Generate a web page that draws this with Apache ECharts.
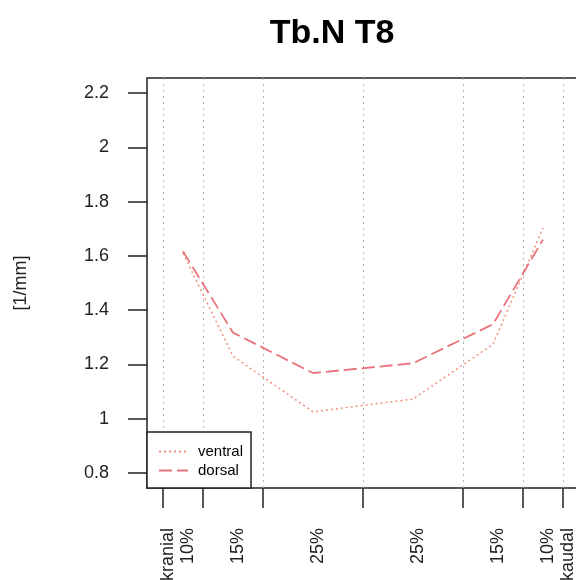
<!DOCTYPE html>
<html>
<head>
<meta charset="utf-8">
<script src="https://cdn.jsdelivr.net/npm/echarts@6/dist/echarts.min.js"></script>
<style>
  html, body { margin: 0; padding: 0; background: #fff; }
  #chart { width: 576px; height: 580px; }
</style>
</head>
<body>
<div id="chart"></div>
<script>
// segment borders along the vertebra (percent) and the centre of each segment
const borders = [0, 10, 25, 50, 75, 90, 100]
const centers = [5, 17.5, 37.5, 62.5, 82.5, 95]
const labelPos = [0, 5, 17.5, 37.5, 62.5, 82.5, 95, 100]
const labelText = ['kranial', '10%', '15%', '25%', '25%', '15%', '10%', 'kaudal']
const yTicks = [0.8, 1, 1.2, 1.4, 1.6, 1.8, 2, 2.2]

const ventral = [1.61, 1.23, 1.025, 1.072, 1.274, 1.703]
const dorsal = [1.617, 1.317, 1.168, 1.204, 1.348, 1.66]

const FONT = '"Liberation Sans", Arial, sans-serif'
const chart = echarts.init(document.getElementById('chart'))

const pairs = arr => centers.map((x, i) => [x, arr[i]])

chart.setOption({
  animation: false,
  title: {
    text: 'Tb.N T8', left: 327, top: 12, textAlign: 'center',
    textStyle: { fontFamily: FONT, fontSize: 34, fontWeight: 'bold', color: '#000' }
  },
  grid: {
    left: 147, top: 78, width: 432, height: 410, outerBoundsMode: 'none',
    show: true, borderColor: '#222', borderWidth: 1.5, backgroundColor: '#fff'
  },
  legend: {
    left: 147, top: 432, orient: 'vertical',
    padding: [12, 8, 10, 11], itemGap: 4, itemWidth: 29, itemHeight: 14,
    borderColor: '#222', borderWidth: 1.5, backgroundColor: '#fff',
    itemStyle: { opacity: 0 },
    textStyle: { fontFamily: FONT, fontSize: 15, color: '#000', padding: [0, 0, 0, 5] },
    data: ['ventral', 'dorsal']
  },
  xAxis: {
    type: 'value', min: -4, max: 104,
    axisLine: { show: false, onZero: false },
    axisTick: { show: true, length: 20, customValues: borders, lineStyle: { color: '#222', width: 1.5 } },
    axisLabel: {
      customValues: labelPos, rotate: 90, margin: 40,
      verticalAlign: 'top', lineHeight: 10,
      fontFamily: FONT, fontSize: 18, color: '#222',
      formatter: v => labelText[labelPos.indexOf(v)]
    },
    splitLine: { show: true, lineStyle: { color: '#b0b0b0', type: [2, 4], width: 1 } }
  },
  yAxis: {
    type: 'value', min: 0.744, max: 2.256,
    name: '[1/mm]', nameLocation: 'middle', nameGap: 117, nameRotate: 90,
    nameTextStyle: { fontFamily: FONT, fontSize: 18, color: '#222' },
    axisLine: { show: false, onZero: false },
    axisTick: { show: true, length: 19, customValues: yTicks, lineStyle: { color: '#222', width: 1.5 } },
    axisLabel: { customValues: yTicks, margin: 38, fontFamily: FONT, fontSize: 18, color: '#222' },
    splitLine: { show: false }
  },
  series: [
    {
      name: 'ventral', type: 'line', data: pairs(ventral), symbol: 'none',
      itemStyle: { color: '#f0907f' },
      lineStyle: { color: '#f0907f', width: 1.5, type: [2, 3] }
    },
    {
      name: 'dorsal', type: 'line', data: pairs(dorsal), symbol: 'none',
      itemStyle: { color: '#e8737c' },
      lineStyle: { color: '#e8737c', width: 1.8, type: [13, 5] }
    }
  ]
})
</script>
</body>
</html>
